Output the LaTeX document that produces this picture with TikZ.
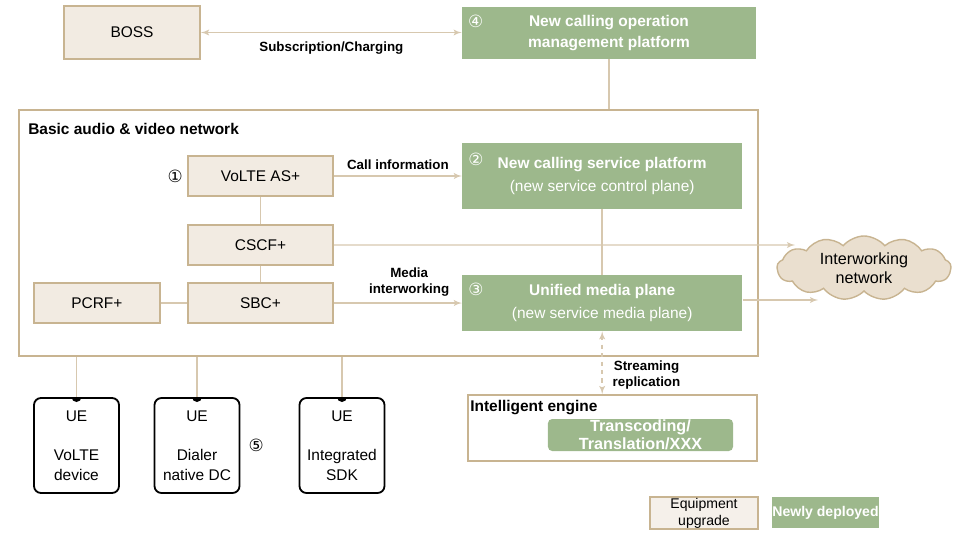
\documentclass[tikz,border=0pt]{standalone}
\usepackage{fontspec}
\setmainfont{Liberation Sans}
\newfontfamily\circfont{DejaVu Sans}
\usetikzlibrary{shapes,arrows,positioning}
\definecolor{tanline}{HTML}{D7C8AF}
\definecolor{tanborder}{HTML}{C8B491}
\definecolor{beige}{HTML}{F2EBE2}
\definecolor{paleb}{HTML}{F5F0EA}
\definecolor{cloudfill}{HTML}{EADFCF}
\definecolor{sage}{HTML}{9DB88C}

\begin{document}
\begin{tikzpicture}[x=0.025cm, y=-0.025cm, node distance=2cm, auto,
	font=\fontsize{11}{13}\selectfont]
	\tikzstyle{block} = [rectangle, draw=tanborder, line width=1.4pt, fill=beige,
	minimum width=3.625cm, minimum height=1cm, inner sep=0pt, align=center]
	\tikzstyle{newblock} = [rectangle, fill=sage, text=white, inner sep=0pt,
	align=center, font=\fontsize{11}{16}\selectfont]
	\tikzstyle{frame} = [rectangle, draw=tanborder, line width=1.4pt, inner sep=0pt]
	\tikzstyle{ue} = [rectangle, draw, line width=1.3pt, rounded corners=5pt,
	minimum width=2.125cm, minimum height=2.375cm, inner sep=0pt, align=center,
	font=\fontsize{11}{14}\selectfont]
	\tikzstyle{num} = [inner sep=0pt, font=\circfont\fontsize{12}{14}\selectfont]
	\tikzstyle{tag} = [font=\bfseries\fontsize{9.5}{11.5}\selectfont, align=center, inner sep=1pt]
	\tikzstyle{title} = [font=\bfseries\fontsize{11}{13}\selectfont, inner sep=0pt, anchor=west]
	\tikzstyle{line} = [draw=tanline, line width=1pt]
	\tikzstyle{arrow} = [line, -latex']
	\useasboundingbox (0,0) rectangle (960,540);
	% Place nodes
	\node [block, minimum width=3.4cm, minimum height=1.325cm] (boss) at (132,32.5) {BOSS};
	\node [newblock, minimum width=7.35cm, minimum height=1.3cm] (mgmt) at (609,33)
	{\bfseries New calling operation\\[-1pt]\bfseries management platform};
	\node [frame, minimum width=18.475cm, minimum height=6.15cm] (net) at (388.5,233) {};
	\node [title] (nettitle) at (28,129) {Basic audio \& video network};
	\node [block] (volte) at (260.5,176) {VoLTE AS+};
	\node [block, below of=volte, node distance=1.725cm] (cscf) {CSCF+};
	\node [block, below of=cscf, node distance=1.45cm] (sbc) {SBC+};
	\node [block, left of=sbc, node distance=4.09cm, minimum width=3.15cm] (pcrf) {PCRF+};
	\node [newblock, right of=volte, node distance=8.54cm, minimum width=7cm,
	minimum height=1.625cm] (svc)
	{\textbf{New calling service platform}\\(new service control plane)};
	\node [newblock, right of=sbc, node distance=8.54cm, minimum width=7cm,
	minimum height=1.4cm] (media)
	{\textbf{Unified media plane}\\(new service media plane)};
	\node [cloud, cloud puffs=13, cloud puff arc=100, aspect=3, draw=tanborder,
	line width=1pt, fill=cloudfill, minimum width=4.35cm, minimum height=1.6cm,
	inner sep=0pt, align=center, font=\fontsize{11.5}{13.5}\selectfont]
	(cloud) at (864,268) {Interworking\\network};
	\node [frame, minimum width=7.225cm, minimum height=1.65cm] (engine) at (612.5,428) {};
	\node [title] (enginetitle) at (470,408) {Intelligent engine};
	\node [newblock, rounded corners=3pt, minimum width=4.625cm, minimum height=0.8cm,
	font=\bfseries\fontsize{11.5}{13}\selectfont] (ai) at (640.5,435) {Transcoding/\\Translation/XXX};
	\node [ue] (ue1) at (76.5,445.5) {UE\\ \\VoLTE\\device};
	\node [ue] (ue2) at (197,445.5) {UE\\ \\Dialer\\native DC};
	\node [ue] (ue3) at (342,445.5) {UE\\ \\Integrated\\SDK};
	\node [block, fill=paleb, minimum width=2.7cm, minimum height=0.8cm,
	font=\fontsize{10}{12}\selectfont] (legold) at (704,513) {Equipment\\upgrade};
	\node [newblock, minimum width=2.675cm, minimum height=0.775cm,
	font=\bfseries\fontsize{10}{12}\selectfont] (legnew) at (825.5,512.5) {Newly deployed};
	% Numbers
	\node [num, left=0.1cm of volte] (n1) {①};
	\node [num, text=white] (n2) at ([shift={(14,16)}]svc.north west) {②};
	\node [num, text=white] (n3) at ([shift={(14,15)}]media.north west) {③};
	\node [num, text=white] (n4) at ([shift={(14,15)}]mgmt.north west) {④};
	\node [num, right=0.2cm of ue2] (n5) {⑤};
	\coordinate (cin1) at (795,245);
	\coordinate (cin2) at (818,300);
	% Draw edges
	\path [line, latex'-latex'] (boss.east) -- (boss.east -| mgmt.west)
	node [tag, midway, below=5pt] {Subscription/Charging};
	\path [line] (mgmt) -- (mgmt |- net.north);
	\path [line] (volte) -- (cscf);
	\path [line] (cscf) -- (sbc);
	\path [line] (pcrf) -- (sbc);
	\path [line] (svc) -- (media);
	\path [arrow] (volte) -- (svc) node [tag, midway, above=3pt] {Call information};
	\path [arrow] (sbc) -- (media) node [tag, midway, above=3pt, xshift=8pt] {Media\\interworking};
	\path [arrow] (cscf) -- (cin1);
	\path [arrow] (media.east |- cin2) -- (cin2);
	\path [line, dashed, latex'-latex'] (media.south) -- (media.south |- engine.north)
	node [tag, midway, right=6pt, yshift=-9pt] {Streaming\\replication};
	\foreach \p in {ue1,ue2,ue3}
	\path [line] (\p.north) -- (\p |- net.south);
	% Phone notches
	\foreach \p in {ue1,ue2,ue3}
	\fill ([xshift=-3.5pt]\p.north) arc[start angle=180, end angle=360, radius=3.5pt] -- cycle;
\end{tikzpicture}
\end{document}
